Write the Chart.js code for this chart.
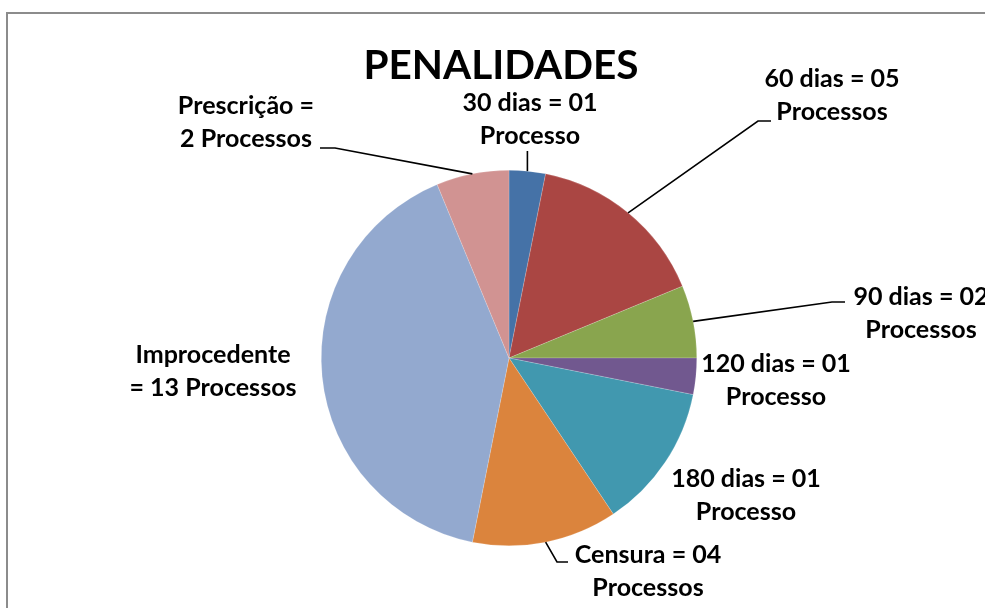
<!DOCTYPE html>
<html>
<head>
<meta charset="utf-8">
<script src="https://cdn.jsdelivr.net/npm/chart.js@4.4.1/dist/chart.umd.min.js"></script>
<style>
    body { margin: 0; background: #fff; overflow: hidden; }
    #caixa {
        position: absolute; left: 6px; top: 12px; width: 1100px; height: 700px;
        border-left: 2px solid #8c8c8c; border-top: 2px solid #8c8c8c;
    }
    #grafico { position: absolute; left: 0; top: 0; }
</style>
</head>
<body>
<div id="caixa"></div>
<canvas id="grafico" width="985" height="608"></canvas>
<script>
const titulo = 'PENALIDADES';
const categorias = ['30 dias', '60 dias', '90 dias', '120 dias', '180 dias', 'Censura', 'Improcedente', 'Prescrição'];
const processos = [1, 5, 2, 1, 4, 4, 13, 2];
const rotulos = [
    ['30 dias = 01', 'Processo'],
    ['60 dias = 05', 'Processos'],
    ['90 dias = 02', 'Processos'],
    ['120 dias = 01', 'Processo'],
    ['180 dias = 01', 'Processo'],
    ['Censura = 04', 'Processos'],
    ['Improcedente', '= 13 Processos'],
    ['Prescrição =', '2 Processos']
];

const cores = ['#4572A7', '#AA4643', '#89A54E', '#71588F', '#4198AF', '#DB843D', '#93A9CF', '#D19392'];

// where each label sits (center x, baseline of first line) and its leader line
const posicoes = [
    { x: 530, y: 111, linha: [[null, 151]] },
    { x: 832, y: 87, linha: [[758, 121], [771, 121]] },
    { x: 921, y: 305, linha: [[832, 302], [845, 302]] },
    { x: 776, y: 372 },
    { x: 746, y: 487 },
    { x: 648, y: 563, linha: [[557, 562], [568, 562]] },
    { x: 213, y: 363 },
    { x: 246, y: 114, linha: [[335, 148], [320, 148]] }
];
const entreLinhas = 33;

function ajustaFonte(ctx, texto, largura) {
    ctx.font = 'bold 100px Lato';
    return 100 * largura / ctx.measureText(texto).width;
}

const rotulosPlugin = {
    id: 'rotulos',
    afterDraw(chart) {
        const ctx = chart.ctx;
        const meta = chart.getDatasetMeta(0);
        ctx.save();

        // leader lines from the slice edge
        ctx.strokeStyle = '#000';
        ctx.lineWidth = 1.6;
        posicoes.forEach((p, i) => {
            if (!p.linha) return;
            const arc = meta.data[i];
            const { x, y, startAngle, endAngle, outerRadius } = arc.getProps(['x', 'y', 'startAngle', 'endAngle', 'outerRadius'], true);
            const meio = (startAngle + endAngle) / 2;
            const bx = x + Math.cos(meio) * outerRadius;
            const by = y + Math.sin(meio) * outerRadius;
            ctx.beginPath();
            ctx.moveTo(bx, by);
            p.linha.forEach(pt => ctx.lineTo(pt[0] === null ? bx : pt[0], pt[1]));
            ctx.stroke();
        });

        // title
        const tamTitulo = ajustaFonte(ctx, titulo, 275);
        ctx.fillStyle = '#000';
        ctx.textAlign = 'center';
        ctx.textBaseline = 'alphabetic';
        ctx.font = `bold ${tamTitulo}px Lato`;
        ctx.fillText(titulo, 501, 79);

        // data labels
        const tam = ajustaFonte(ctx, '2 Processos', 132);
        ctx.font = `bold ${tam}px Lato`;
        rotulos.forEach((linhas, i) => {
            const p = posicoes[i];
            linhas.forEach((t, j) => ctx.fillText(t, p.x, p.y + j * entreLinhas));
        });
        ctx.restore();
    }
};

new Chart(document.getElementById('grafico'), {
    type: 'pie',
    data: {
        labels: categorias,
        datasets: [{
            data: processos,
            backgroundColor: cores,
            borderColor: 'rgba(255,255,255,0.35)',
            borderWidth: 0.5
        }]
    },
    options: {
        responsive: false,
        animation: false,
        layout: { padding: { left: 321, right: 288, top: 170, bottom: 62 } },
        plugins: {
            legend: { display: false },
            tooltip: { enabled: false }
        }
    },
    plugins: [rotulosPlugin]
});
</script>
</body>
</html>
